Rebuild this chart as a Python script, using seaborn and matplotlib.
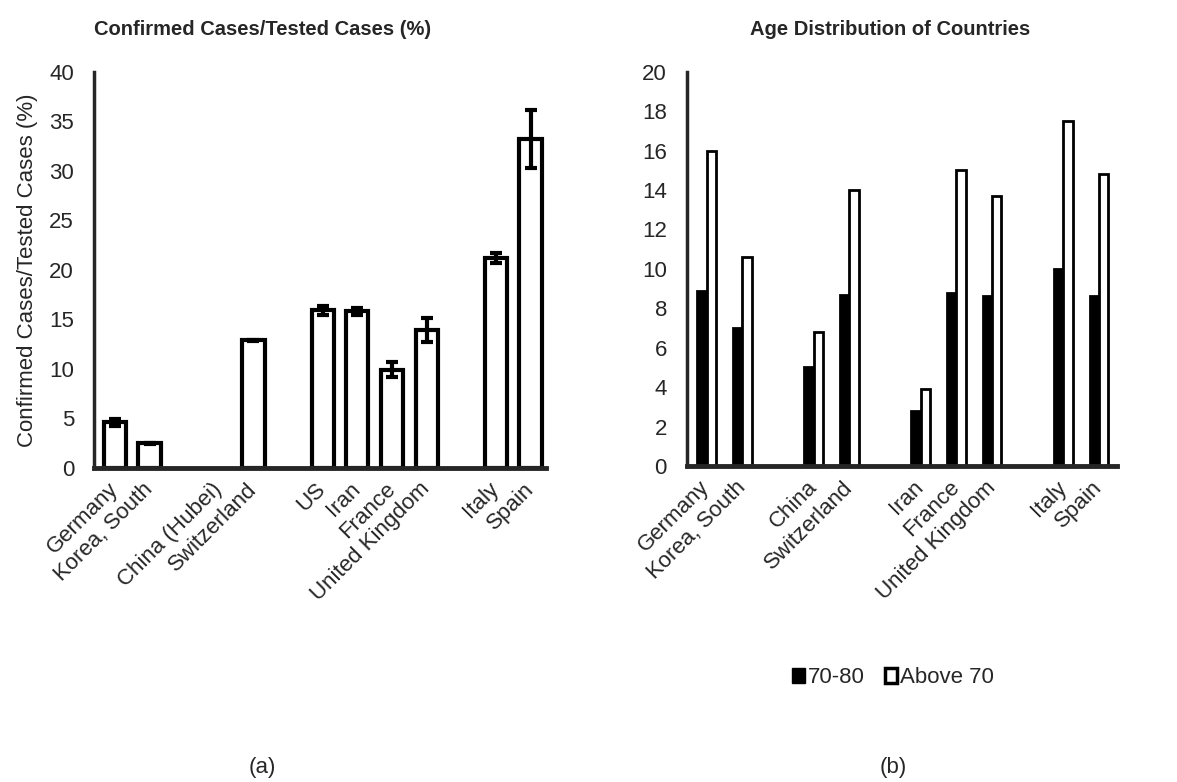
import numpy as np
import pandas as pd
import seaborn as sns
import matplotlib.pyplot as plt
from matplotlib.patches import Patch

# left panel: confirmed / tested (%), blank label = empty slot
tested_labels = ["Germany", "Korea, South", "", "China (Hubei)", "Switzerland", "",
                 "US", "Iran", "France", "United Kingdom", "", "Italy", "Spain"]
tested_values = [4.6, 2.5, np.nan, np.nan, 12.9, np.nan,
                 15.9, 15.8, 9.9, 13.9, np.nan, 21.2, 33.2]
tested_err = [0.35, 0.05, np.nan, np.nan, 0.05, np.nan,
              0.45, 0.35, 0.75, 1.2, np.nan, 0.5, 2.9]

# right panel: age distribution
age_labels = ["Germany", "Korea, South", "", "China", "Switzerland", "",
              "Iran", "France", "United Kingdom", "", "Italy", "Spain"]
age_70_80 = [8.9, 7.0, np.nan, 5.0, 8.7, np.nan, 2.8, 8.8, 8.6, np.nan, 10.0, 8.6]
age_above_70 = [16.0, 10.6, np.nan, 6.8, 14.0, np.nan, 3.9, 15.0, 13.7, np.nan, 17.5, 14.8]
series_names = ["70-80", "Above 70"]

FS = 16

sns.set_style("white")
plt.rcParams['font.family'] = ['Liberation Sans', 'DejaVu Sans']
plt.rcParams['font.size'] = FS

fig = plt.figure(figsize=(11.77, 7.82), dpi=100)
ax1 = fig.add_axes([0.080, 0.4015, 0.384, 0.507])
ax2 = fig.add_axes([0.5837, 0.404, 0.3653, 0.5043])

## left chart
df1 = pd.DataFrame({"pos": np.arange(len(tested_labels)), "value": tested_values})
sns.barplot(data=df1, x="pos", y="value", native_scale=True, width=0.64,
            color="white", edgecolor="black", linewidth=3, errorbar=None, ax=ax1)
ax1.errorbar(df1["pos"], df1["value"], yerr=tested_err, fmt="none", ecolor="black",
             elinewidth=3, capsize=4.5, capthick=3)
ax1.set_xlim(-0.6, 12.45)
ax1.set_ylim(0, 40)
ax1.set_yticks(range(0, 41, 5))
ax1.set_xticks(df1["pos"])
ax1.set_xticklabels(tested_labels, rotation=45, ha="right", va="center",
                    rotation_mode="anchor")
ax1.set_xlabel("")
ax1.set_ylabel("Confirmed Cases/Tested Cases (%)")
ax1.yaxis.set_label_coords(-0.125, 0.5)

## right chart
df2 = pd.DataFrame({
    "pos": np.tile(np.arange(len(age_labels)), 2),
    "group": np.repeat(series_names, len(age_labels)),
    "value": age_70_80 + age_above_70,
})
sns.barplot(data=df2, x="pos", y="value", hue="group", native_scale=True, width=0.52,
            palette=["black", "white"], edgecolor="black", linewidth=2,
            errorbar=None, legend=False, ax=ax2)
ax2.set_xlim(-0.55, 11.5)
ax2.set_ylim(0, 20)
ax2.set_yticks(range(0, 21, 2))
ax2.set_xticks(np.arange(len(age_labels)))
ax2.set_xticklabels(age_labels, rotation=45, ha="right", va="center",
                    rotation_mode="anchor")
ax2.set_xlabel("")
ax2.set_ylabel("")

for ax in (ax1, ax2):
    sns.despine(ax=ax)
    ax.spines["left"].set_linewidth(2.5)
    ax.spines["bottom"].set_linewidth(3.5)
    ax.spines["bottom"].set_zorder(5)
    ax.tick_params(axis="y", direction="out", length=4.5, width=2.5, labelsize=FS, pad=10)
    ax.tick_params(axis="x", length=0, labelsize=FS, pad=13)
    ax.grid(False)

fig.text(0.223, 0.962, "Confirmed Cases/Tested Cases (%)", ha="center", va="center",
         fontsize=14.5, fontweight="bold")
fig.text(0.756, 0.962, "Age Distribution of Countries", ha="center", va="center",
         fontsize=14.5, fontweight="bold")

handles = [Patch(facecolor="black", edgecolor="black"),
           Patch(facecolor="white", edgecolor="black", linewidth=2.5)]
fig.legend(handles, series_names, loc="center", bbox_to_anchor=(0.759, 0.133), ncol=2,
           frameon=False, fontsize=FS, handlelength=0.55, handleheight=0.7,
           handletextpad=0.15, columnspacing=0.9)

fig.text(0.223, 0.018, "(a)", ha="center", va="center", fontsize=FS)
fig.text(0.759, 0.018, "(b)", ha="center", va="center", fontsize=FS)

fig.savefig("out.png", dpi=100)
